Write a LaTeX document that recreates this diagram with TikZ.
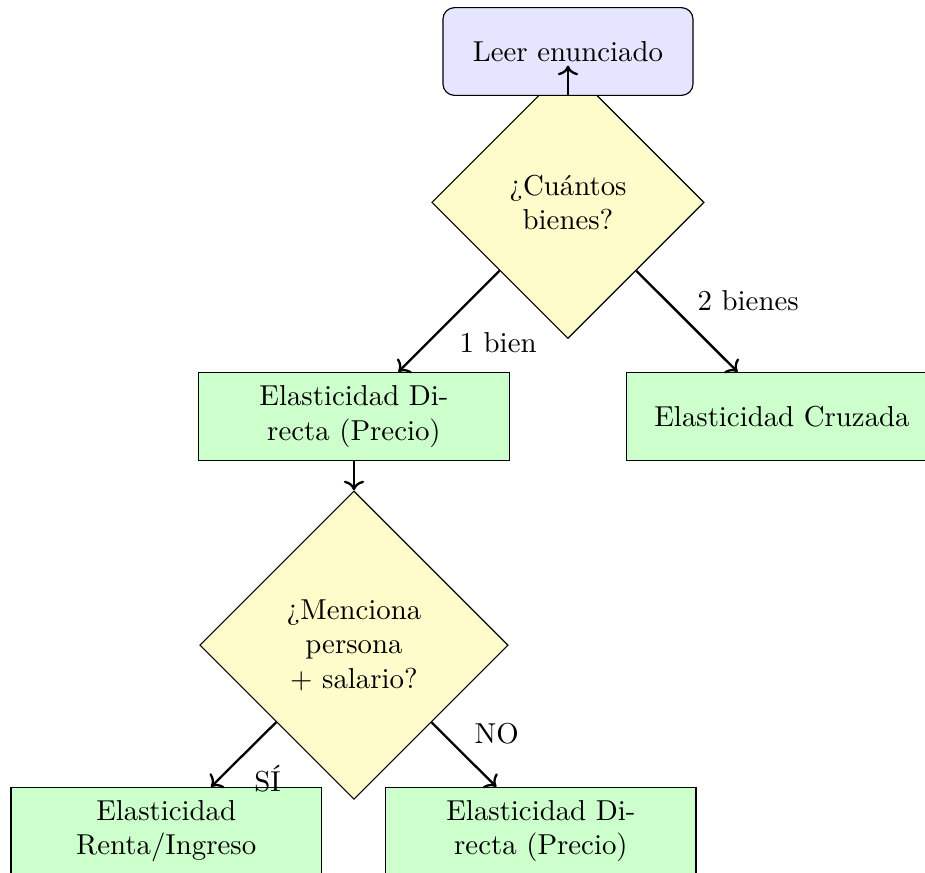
\documentclass[tikz,border=0pt]{standalone}
\usepackage{tikz}
\usetikzlibrary{shapes.geometric, arrows.meta, positioning}

\begin{document}
\begin{tikzpicture}[
        inicio/.style={rectangle, rounded corners, draw, fill=blue!10, minimum width=3.05cm, minimum height=1.07cm, align=center},
        pregunta/.style={diamond, draw, fill=yellow!20, text width=2.18cm, align=center},
        caja/.style={rectangle, draw, fill=green!20, text width=3.55cm, minimum height=1.07cm, align=center},
        flecha/.style={thick, ->}
    ]
        % Flowchart: which elasticity does the exercise ask for?
        \useasboundingbox (-6.927,0.628) rectangle (4.354,-10.018);

        % First question: number of goods (drawn below the start box)
        \node[pregunta] (cuantos) at (0,-1.84) {¿Cuántos bienes?};
        \node[inicio] (leer) at (0,0) {Leer enunciado};

        % One good / two goods
        \node[caja] (directa) at (-2.61,-4.45) {Elasticidad Directa (Precio)};
        \node[caja] (cruzada) at (2.61,-4.45) {Elasticidad Cruzada};

        % Second question: person + wage
        \node[pregunta] (menciona) at (-2.61,-7.24) {¿Menciona persona + salario?};
        \node[caja] (renta) at (-4.90,-9.51) {Elasticidad Renta/Ingreso};
        \node[caja] (directados) at (-0.33,-9.51) {Elasticidad Directa (Precio)};

        % Connectors
        \draw[flecha] (leer) -- (cuantos);
        \draw[flecha] (cuantos) -- node[below right] {1 bien} (directa);
        \draw[flecha] (cuantos) -- node[above right] {2 bienes} (cruzada);
        \draw[flecha] (directa) -- (menciona);
        \draw[flecha] (menciona) -- node[below right] {SÍ} (renta);
        \draw[flecha] (menciona) -- node[above right] {NO} (directados);
    \end{tikzpicture}
\end{document}
